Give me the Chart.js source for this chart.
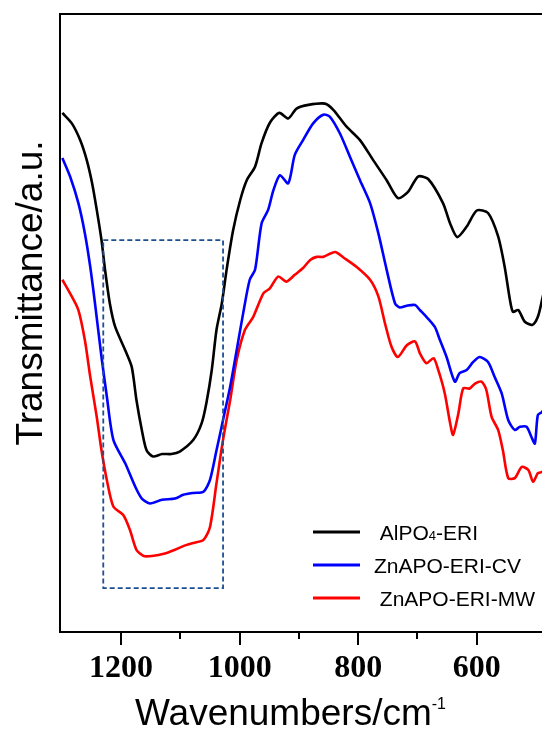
<!DOCTYPE html>
<html>
<head>
<meta charset="utf-8">
<script src="https://cdn.jsdelivr.net/npm/chart.js@4.4.0/dist/chart.umd.min.js"></script>
<style>
  html, body { margin: 0; padding: 0; background: #fff; overflow: hidden; }
  canvas { display: block; }
</style>
</head>
<body>
<canvas id="chart" width="542" height="731"></canvas>
<script>
// ---- data (wavenumber, transmittance a.u.) ----
const alpoWn = [1299,1283,1269,1258,1249,1241,1233,1227,1219,1210,1193,1182,1174,1165,1157,1146,1131,1115,1101,1078,1064,1056,1047,1039,1030,1022,1011,999,988,974,963,949,933,918,904,884,856,842,820,797,775,752,733,716,699,682,657,645,633,617,600,581,564,553,544,539,530,519,506,497,490,480];
const alpoT  = [84.0,82.3,79.6,76.4,72.7,68.3,63.4,58.6,53.2,49.4,45.6,42.9,37.5,32.7,29.4,28.4,28.8,28.8,29.2,31.1,33.8,37.1,42.4,48.9,53.2,58.6,65.0,69.9,73.1,75.3,79.1,82.4,84.0,83.1,84.7,85.3,85.5,84.5,81.8,79.6,76.4,73.1,70.2,71.2,73.7,73.3,69.4,66.1,63.9,65.6,68.2,67.8,64.0,59.1,53.7,51.8,52.1,50.2,49.7,51.0,53.7,58.0];

const cvWn = [1299,1286,1272,1261,1252,1244,1233,1224,1213,1193,1176,1165,1151,1131,1109,1095,1078,1061,1050,1039,1028,1016,1005,994,983,974,963,952,943,932,918,907,893,876,859,848,831,814,797,780,766,752,738,730,718,704,696,685,671,662,651,637,629,617,606,595,581,570,558,547,536,527,516,508,502,497,490,480];
const cvT  = [76.7,73.7,69.4,64.5,59.1,53.2,44.5,38.1,31.1,27.3,23.5,21.6,20.8,21.4,21.6,22.2,22.5,22.7,24.6,29.4,34.3,39.7,45.6,51.6,57.0,58.6,66.1,68.3,71.5,73.9,72.6,77.2,79.6,82.3,83.7,83.4,80.7,76.9,73.1,69.4,64.5,58.6,53.2,52.5,52.8,52.9,52.1,51.0,49.4,47.2,44.5,40.5,41.9,42.4,43.7,44.5,43.7,41.3,38.6,34.3,32.7,33.2,33.2,31.6,30.5,35.1,35.6,37.0];

const mwWn = [1299,1286,1272,1261,1252,1241,1233,1224,1213,1196,1185,1174,1162,1148,1126,1109,1095,1078,1061,1050,1039,1028,1016,1005,991,977,960,949,935,921,907,893,881,870,859,839,825,803,780,766,755,744,733,718,704,696,685,673,665,654,645,640,631,623,612,603,592,584,575,564,556,547,536,524,513,505,497,490,480];
const mwT  = [57.0,54.8,52.1,47.2,41.3,34.8,29.4,24.6,20.3,18.9,16.5,13.3,12.3,12.3,12.7,13.3,13.9,14.4,14.9,17.0,24.1,31.1,37.5,44.0,48.9,51.0,54.8,55.6,57.5,56.7,57.8,58.9,60.2,60.7,60.7,61.5,60.6,59.1,57.0,54.3,50.0,46.2,44.5,46.4,47.0,45.1,43.5,44.3,42.4,38.6,33.8,31.9,35.4,39.4,39.4,40.2,40.5,39.2,34.8,32.7,29.4,24.9,24.9,26.7,26.2,24.3,25.7,25.9,27.0];

const seriesLabels = ['AlPO₄-ERI', 'ZnAPO-ERI-CV', 'ZnAPO-ERI-MW'];
const seriesColors = ['#000000', '#0000ff', '#ff0000'];
const xTickLabels = [1200, 1000, 800, 600];
// highlighted region (dashed box)
const boxWn = [1230, 1028];
const boxT = [7.1, 63.4];

const pts = (wn, t) => wn.map((w, i) => ({ x: w, y: t[i] }));
const series = [pts(alpoWn, alpoT), pts(cvWn, cvT), pts(mwWn, mwT)];

const SANS = "'Liberation Sans', Arial, sans-serif";

function drawRich(ctx, text, x, y, size) {
  // subscript digits drawn small on the baseline
  let cx = x;
  for (const ch of text) {
    const code = ch.charCodeAt(0);
    let c = ch, f = size;
    if (code >= 0x2080 && code <= 0x2089) { c = String(code - 0x2080); f = Math.round(size * 0.62); }
    ctx.font = f + 'px ' + SANS;
    ctx.fillText(c, cx, y);
    cx += ctx.measureText(c).width;
  }
}

const extras = {
  id: 'extras',
  afterDraw(chart) {
    const { ctx, chartArea: a, scales: { x, y } } = chart;
    ctx.save();
    ctx.strokeStyle = '#000';
    ctx.lineWidth = 2;
    // top frame
    ctx.beginPath(); ctx.moveTo(a.left - 1, a.top); ctx.lineTo(chart.width, a.top); ctx.stroke();
    // tick marks, long at labelled ones
    x.ticks.forEach(t => {
      if (t.value % 100 !== 0) return;
      const px = Math.round(x.getPixelForValue(t.value));
      const len = t.value % 200 === 0 ? 13 : 7;
      ctx.beginPath(); ctx.moveTo(px, a.bottom); ctx.lineTo(px, a.bottom + len); ctx.stroke();
    });

    // dashed box
    const bx0 = x.getPixelForValue(boxWn[0]), bx1 = x.getPixelForValue(boxWn[1]);
    const by0 = y.getPixelForValue(boxT[1]), by1 = y.getPixelForValue(boxT[0]);
    ctx.strokeStyle = '#1c4f8f';
    ctx.lineWidth = 1.8;
    ctx.setLineDash([5, 3]);
    ctx.strokeRect(bx0, by0, bx1 - bx0, by1 - by0);
    ctx.setLineDash([]);

    // legend
    seriesLabels.forEach((lab, i) => {
      const ly = a.bottom - 100 + i * 33;
      ctx.strokeStyle = seriesColors[i];
      ctx.lineWidth = 3;
      ctx.beginPath(); ctx.moveTo(a.left + 253, ly); ctx.lineTo(a.left + 300, ly); ctx.stroke();
      ctx.fillStyle = '#000';
      ctx.textBaseline = 'alphabetic';
      drawRich(ctx, (i === 1 ? '' : ' ') + lab, a.left + 314, ly + 8, 21);
    });

    // axis titles
    ctx.fillStyle = '#000';
    ctx.textBaseline = 'alphabetic';
    ctx.textAlign = 'left';
    ctx.font = '37px ' + SANS;
    const xt = 'Wavenumbers/cm';
    ctx.fillText(xt, 135, 725);
    const w = ctx.measureText(xt).width;
    ctx.font = '16px ' + SANS;
    ctx.fillText('-1', 135 + w, 709);

    ctx.translate(41.5, 293);
    ctx.rotate(-Math.PI / 2);
    ctx.textAlign = 'center';
    ctx.font = '37px ' + SANS;
    ctx.fillText('Transmittance/a.u.', 0, 0);
    ctx.restore();
  }
};

new Chart(document.getElementById('chart'), {
  type: 'line',
  data: {
    datasets: series.map((d, i) => ({
      label: seriesLabels[i],
      data: d,
      borderColor: seriesColors[i],
      borderWidth: 2.6,
      pointRadius: 0,
      tension: 0.25,
      fill: false
    }))
  },
  options: {
    responsive: false,
    animation: false,
    layout: { autoPadding: false, padding: { top: 14, right: 0, left: 0, bottom: 0 } },
    plugins: { legend: { display: false }, tooltip: { enabled: false } },
    scales: {
      x: {
        type: 'linear', reverse: true, min: 490, max: 1303,
        grid: { display: false, drawTicks: true, tickLength: 18 },
        border: { display: true, color: '#000', width: 2 },
        ticks: {
          stepSize: 100, autoSkip: false, maxRotation: 0, padding: 0, color: '#000',
          font: { family: "'Liberation Serif', 'Times New Roman', serif", size: 32, weight: 'bold' },
          callback: v => xTickLabels.includes(v) ? String(v) : ''
        },
        afterFit: s => { s.height = 99; }
      },
      y: {
        min: 0, max: 100,
        grid: { display: false, drawTicks: false },
        border: { display: true, color: '#000', width: 2 },
        ticks: { display: false },
        afterFit: s => { s.width = 60; }
      }
    }
  },
  plugins: [extras]
});
</script>
</body>
</html>
